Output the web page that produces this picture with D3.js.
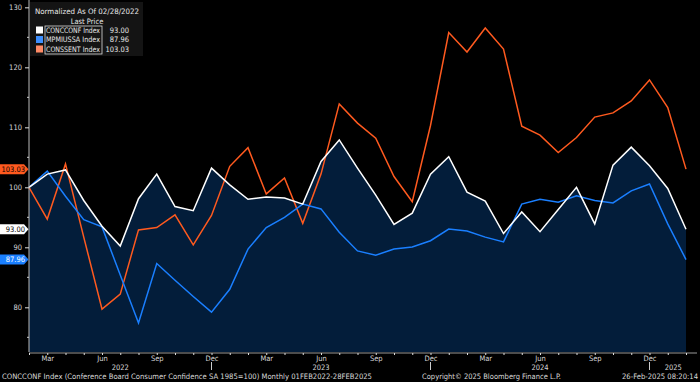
<!DOCTYPE html>
<html>
<head>
<meta charset="utf-8">
<script src="https://cdn.jsdelivr.net/npm/d3@7"></script>
<style>
  body { margin: 0; background: #000; }
  svg { display: block; background: #000; }
  text { font-family: "DejaVu Sans Condensed", "Liberation Sans", sans-serif; }
</style>
</head>
<body>
<svg width="700" height="382"></svg>
<script>
// months Feb 2022 .. Feb 2025
var months = ["2022-02","2022-03","2022-04","2022-05","2022-06","2022-07","2022-08","2022-09","2022-10","2022-11","2022-12",
  "2023-01","2023-02","2023-03","2023-04","2023-05","2023-06","2023-07","2023-08","2023-09","2023-10","2023-11","2023-12",
  "2024-01","2024-02","2024-03","2024-04","2024-05","2024-06","2024-07","2024-08","2024-09","2024-10","2024-11","2024-12",
  "2025-01","2025-02"];

// normalized to 100 at 02/28/2022
var concconf = [100, 102.2, 102.9, 97.8, 93.5, 90.2, 98.1, 102.2, 96.8, 96.1, 103.2,
  100.4, 98.0, 98.4, 98.2, 97.2, 104.3, 107.9, 103.2, 98.7, 93.8, 95.7, 102.2,
  105.1, 99.2, 97.7, 92.3, 95.9, 92.6, 96.3, 100.0, 93.9, 103.7, 106.7, 103.6,
  99.8, 93.00];
var mpmiussa = [100, 102.7, 98.5, 94.6, 93.4, 85.4, 77.4, 87.3, 84.5, 81.8, 79.2,
  83.0, 89.7, 93.3, 95.0, 97.2, 96.4, 92.5, 89.4, 88.7, 89.7, 90.05, 91.1,
  93.05, 92.7, 91.7, 90.9, 97.2, 98.0, 97.5, 98.6, 97.8, 97.4, 99.4, 100.55,
  93.9, 87.96];
var conssent = [100, 94.7, 103.9, 91.7, 79.7, 82.2, 92.9, 93.3, 95.4, 90.4, 95.3,
  103.5, 106.6, 98.9, 101.55, 94.0, 102.2, 113.9, 110.7, 108.2, 101.8, 97.6, 110.3,
  125.8, 122.55, 126.55, 123.05, 110.2, 108.7, 105.8, 108.3, 111.7, 112.4, 114.4, 117.9,
  113.3, 103.03];

var seriesNames = ["CONCCONF Index", "MPMIUSSA Index", "CONSSENT Index"];
var lastLabels = ["93.00", "87.96", "103.03"];
var seriesColors = ["#ffffff", "#1a7fff", "#ff5a1f"];

var yTicks = [80, 90, 100, 110, 120, 130];
var yMinorTicks = [75, 85, 95, 105, 115, 125];
var quarterLabels = {"03": "Mar", "06": "Jun", "09": "Sep", "12": "Dec"};
var yearLabels = ["2022", "2023", "2024", "2025"];
var yearBreaks = ["2022-12", "2023-12", "2024-12"];

function main(){
    var svg = d3.select("svg");

    var left = 29, right = 686, axisEnd = 697, top = 0, bottom = 352;
    var fs = 7.5;

    var xScale = d3.scalePoint().domain(months).range([left, right]);
    // 10 units = 60px, 100 sits at y=187.3
    var yScale = d3.scaleLinear().domain([72.55, 131.22]).range([bottom, top]);

    // area under CONCCONF
    var area = d3.area()
        .x(function(d, i){ return xScale(months[i]); })
        .y0(bottom)
        .y1(function(d){ return yScale(d); });

    svg.append("path")
        .datum(concconf)
        .attr("d", area)
        .attr("fill", "#031d3a");

    var line = d3.line()
        .x(function(d, i){ return xScale(months[i]); })
        .y(function(d){ return yScale(d); });

    var allSeries = [concconf, mpmiussa, conssent];
    // orange first, then blue, white on top
    [2, 1, 0].forEach(function(k){
        svg.append("path")
            .datum(allSeries[k])
            .attr("d", line)
            .attr("fill", "none")
            .attr("stroke", seriesColors[k])
            .attr("stroke-width", 1.5);
    });

    // left axis
    var yAxis = svg.append("g")
        .attr("transform", "translate(" + left + ",0)")
        .call(d3.axisLeft(yScale).tickValues(yTicks).tickSize(4).tickPadding(3));
    yAxis.select(".domain").attr("stroke", "#bbbbbb").attr("d", "M0," + top + "V" + bottom);
    yAxis.selectAll(".tick line").attr("stroke", "#dddddd");
    yAxis.selectAll(".tick text").attr("fill", "#d8d8d8").attr("font-size", fs);

    svg.append("g")
        .attr("transform", "translate(" + left + ",0)")
        .selectAll("line")
        .data(yMinorTicks)
        .enter()
        .append("line")
        .attr("x1", -2).attr("x2", 0)
        .attr("y1", function(d){ return yScale(d); })
        .attr("y2", function(d){ return yScale(d); })
        .attr("stroke", "#cccccc");

    // bottom axis
    var xAxis = svg.append("g")
        .attr("transform", "translate(0," + (bottom + 1) + ")")
        .call(d3.axisBottom(xScale)
            .tickValues(months)
            .tickSize(2)
            .tickPadding(0)
            .tickFormat(function(m){ return quarterLabels[m.slice(5)] || ""; }));
    xAxis.select(".domain").attr("stroke", "#999999").attr("d", "M" + left + ",0H" + axisEnd);
    xAxis.selectAll(".tick line").attr("stroke", "#dddddd");
    xAxis.selectAll(".tick text").attr("fill", "#d8d8d8").attr("font-size", fs)
        .attr("dy", null).attr("y", 7.5);

    // year separators and labels
    svg.selectAll(".ysep")
        .data(yearBreaks)
        .enter()
        .append("line")
        .attr("class", "ysep")
        .attr("x1", function(d){ return xScale(d); })
        .attr("x2", function(d){ return xScale(d); })
        .attr("y1", 362).attr("y2", 370)
        .attr("stroke", "#cccccc");

    var bounds = [left].concat(yearBreaks.map(function(d){ return xScale(d); })).concat([axisEnd]);
    svg.selectAll(".ylab")
        .data(yearLabels)
        .enter()
        .append("text")
        .attr("class", "ylab")
        .attr("x", function(d, i){ return (bounds[i] + bounds[i + 1]) / 2; })
        .attr("y", 370)
        .attr("text-anchor", "middle")
        .attr("fill", "#d8d8d8")
        .attr("font-size", fs)
        .text(function(d){ return d; });

    // last-value tags on the left
    var tagText = ["#000000", "#ffffff", "#000000"];
    var lastVals = [concconf[36], mpmiussa[36], conssent[36]];
    var tags = svg.selectAll(".tag")
        .data(lastVals)
        .enter()
        .append("g")
        .attr("class", "tag")
        .attr("transform", function(d){ return "translate(0," + yScale(d) + ")"; });
    tags.append("path")
        .attr("d", "M0,-5H24L28.5,0L24,5H0Z")
        .attr("fill", function(d, i){ return seriesColors[i]; });
    tags.append("text")
        .attr("x", 25).attr("y", 2.8)
        .attr("text-anchor", "end")
        .attr("font-size", fs)
        .attr("fill", function(d, i){ return tagText[i]; })
        .text(function(d, i){ return lastLabels[i]; });

    // legend
    var lg = svg.append("g");
    lg.append("rect")
        .attr("x", 30).attr("y", 2).attr("width", 113).attr("height", 54)
        .attr("fill", "#141414");
    lg.append("text")
        .attr("x", 35).attr("y", 14)
        .attr("fill", "#e8e8e8").attr("font-size", fs)
        .attr("textLength", 104).attr("lengthAdjust", "spacingAndGlyphs")
        .text("Normalized As Of 02/28/2022");
    lg.append("text")
        .attr("x", 87).attr("y", 23.5).attr("text-anchor", "middle")
        .attr("fill", "#e8e8e8").attr("font-size", fs)
        .text("Last Price");
    lg.append("rect")
        .attr("x", 45).attr("y", 26).attr("width", 57).attr("height", 28)
        .attr("fill", "none").attr("stroke", "#dddddd").attr("stroke-width", 0.8);
    var rows = lg.selectAll(".lrow")
        .data(seriesNames)
        .enter()
        .append("g")
        .attr("class", "lrow")
        .attr("transform", function(d, i){ return "translate(0," + (30 + i * 9.5) + ")"; });
    rows.append("rect")
        .attr("x", 36).attr("y", -3.5).attr("width", 7).attr("height", 7)
        .attr("fill", function(d, i){ return i == 2 ? "#ff8a65" : (i == 1 ? "#3d8fff" : "#ffffff"); });
    rows.append("text")
        .attr("x", 46).attr("y", 2.8)
        .attr("fill", "#e8e8e8").attr("font-size", fs)
        .attr("textLength", 54).attr("lengthAdjust", "spacingAndGlyphs")
        .text(function(d){ return d; });
    rows.append("text")
        .attr("x", 129).attr("y", 2.8).attr("text-anchor", "end")
        .attr("fill", "#e8e8e8").attr("font-size", fs)
        .text(function(d, i){ return lastLabels[i]; });

    // footer
    svg.append("text")
        .attr("x", 2).attr("y", 379)
        .attr("fill", "#d8d8d8").attr("font-size", fs)
        .attr("textLength", 370).attr("lengthAdjust", "spacingAndGlyphs")
        .text("CONCCONF Index (Conference Board Consumer Confidence SA 1985=100)  Monthly 01FEB2022-28FEB2025");
    svg.append("text")
        .attr("x", 422).attr("y", 379)
        .attr("fill", "#d8d8d8").attr("font-size", fs)
        .attr("textLength", 139).attr("lengthAdjust", "spacingAndGlyphs")
        .text("Copyright\u00a9 2025 Bloomberg Finance L.P.");
    svg.append("text")
        .attr("x", 622).attr("y", 379)
        .attr("fill", "#d8d8d8").attr("font-size", fs)
        .attr("textLength", 76).attr("lengthAdjust", "spacingAndGlyphs")
        .text("26-Feb-2025 08:20:14");
}

main();
</script>
</body>
</html>
